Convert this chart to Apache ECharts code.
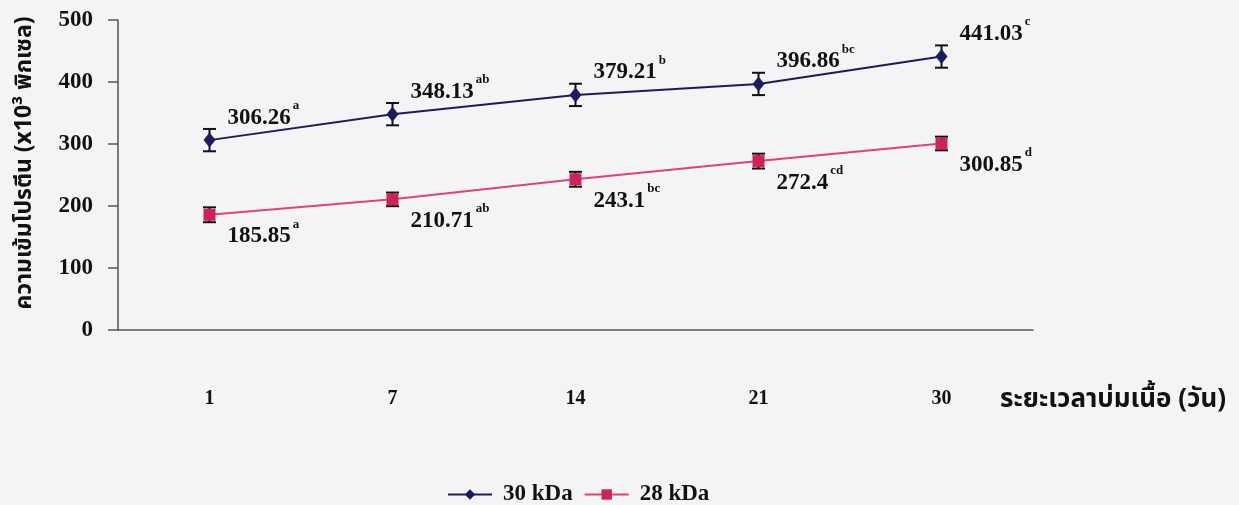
<!DOCTYPE html>
<html>
<head>
<meta charset="utf-8">
<script src="https://cdn.jsdelivr.net/npm/echarts@6/dist/echarts.min.js"></script>
<style>
  html, body { margin: 0; padding: 0; background: #f4f4f6; }
  #chart { width: 1239px; height: 505px; }
</style>
</head>
<body>
<div id="chart"></div>
<script>
// Ripening days (category axis)
const days = ['1', '7', '14', '21', '30'];
// Protein band intensity (x10^3 pixels)
const kda30 = [306.26, 348.13, 379.21, 396.86, 441.03];
const kda28 = [185.85, 210.71, 243.1, 272.4, 300.85];
// Error bar half-lengths
const err30 = [18, 18, 18, 18, 18];
const err28 = [12, 11, 12, 12, 11];
// Significance letters
const sig30 = ['a', 'ab', 'b', 'bc', 'c'];
const sig28 = ['a', 'ab', 'bc', 'cd', 'd'];

const serif = '"Liberation Serif", "Times New Roman", serif';
const thai = '"Noto Sans Thai", "Noto Sans", "DejaVu Sans", sans-serif';

const navy = '#1b1b5e';
const pink = '#e4426e';
const pinkMark = '#cc2456';

// Value label with a raised significance letter
function richLabel(sig, offY) {
  return {
    show: true,
    position: 'right',
    distance: 12,
    offset: [0, offY],
    formatter: p => '{v|' + p.value + '}{s|' + sig[p.dataIndex] + '}',
    rich: {
      v: { fontFamily: serif, fontWeight: 'bold', fontSize: 23, color: '#111', verticalAlign: 'bottom' },
      s: { fontFamily: serif, fontWeight: 'bold', fontSize: 13, color: '#111', lineHeight: 30, verticalAlign: 'top', padding: [0, 0, 17, 2] }
    }
  };
}

function errorSeries(name, vals, errs) {
  return {
    name: name,
    type: 'custom',
    z: 3,
    data: vals.map((v, i) => [i, v - errs[i], v + errs[i]]),
    renderItem: (params, api) => {
      const lo = api.coord([api.value(0), api.value(1)]);
      const hi = api.coord([api.value(0), api.value(2)]);
      const half = 6.5;
      const style = { stroke: '#111', lineWidth: 2 };
      return {
        type: 'group',
        children: [
          { type: 'line', shape: { x1: lo[0], y1: lo[1], x2: hi[0], y2: hi[1] }, style },
          { type: 'line', shape: { x1: lo[0] - half, y1: lo[1], x2: lo[0] + half, y2: lo[1] }, style },
          { type: 'line', shape: { x1: hi[0] - half, y1: hi[1], x2: hi[0] + half, y2: hi[1] }, style }
        ]
      };
    }
  };
}

const chart = echarts.init(document.getElementById('chart'));
chart.setOption({
  backgroundColor: '#f4f4f6',
  animation: false,
  grid: { left: 118, right: 206, top: 20, bottom: 175 },
  legend: {
    data: ['30 kDa', '28 kDa'],
    top: 478,
    left: 442,
    itemWidth: 44,
    itemHeight: 13,
    itemGap: 11,
    textStyle: { fontFamily: serif, fontWeight: 'bold', fontSize: 23, color: '#111', padding: [0, 0, 0, 6] }
  },
  xAxis: {
    type: 'category',
    data: days,
    boundaryGap: true,
    name: 'ระยะเวลาบ่มเนื้อ (วัน)',
    nameLocation: 'end',
    nameGap: -33,
    nameTextStyle: { fontFamily: thai, fontWeight: 'bold', fontSize: 26, color: '#111', align: 'left', verticalAlign: 'top', padding: [59, 0, 0, 0] },
    axisLine: { lineStyle: { color: '#555', width: 1.5 } },
    axisTick: { alignWithLabel: false, length: 11, lineStyle: { color: '#555', width: 1.5 } },
    axisLabel: { margin: 59, fontFamily: serif, fontWeight: 'bold', fontSize: 20, color: '#111' },
    splitLine: { show: false }
  },
  yAxis: {
    type: 'value',
    min: 0,
    max: 500,
    interval: 100,
    name: 'ความเข้มโปรตีน (x10³ พิกเซล)',
    nameLocation: 'middle',
    nameGap: 80,
    nameTextStyle: { fontFamily: thai, fontWeight: 'bold', fontSize: 23, color: '#111', padding: [0, 0, 0, 24] },
    axisLine: { show: true, lineStyle: { color: '#555', width: 1.5 } },
    axisTick: { show: true, length: 10, lineStyle: { color: '#555', width: 1.5 } },
    axisLabel: { margin: 25, fontFamily: serif, fontWeight: 'bold', fontSize: 23, color: '#111' },
    splitLine: { show: false }
  },
  series: [
    {
      name: '30 kDa',
      type: 'line',
      data: kda30,
      z: 4,
      symbol: 'diamond',
      symbolSize: [12, 15],
      itemStyle: { color: navy },
      lineStyle: { color: navy, width: 2 },
      label: richLabel(sig30, -26)
    },
    {
      name: '28 kDa',
      type: 'line',
      data: kda28,
      z: 4,
      symbol: 'rect',
      symbolSize: 12,
      itemStyle: { color: pinkMark },
      lineStyle: { color: pink, width: 2 },
      label: richLabel(sig28, 18)
    },
    errorSeries('err30', kda30, err30),
    errorSeries('err28', kda28, err28)
  ]
});
</script>
</body>
</html>
